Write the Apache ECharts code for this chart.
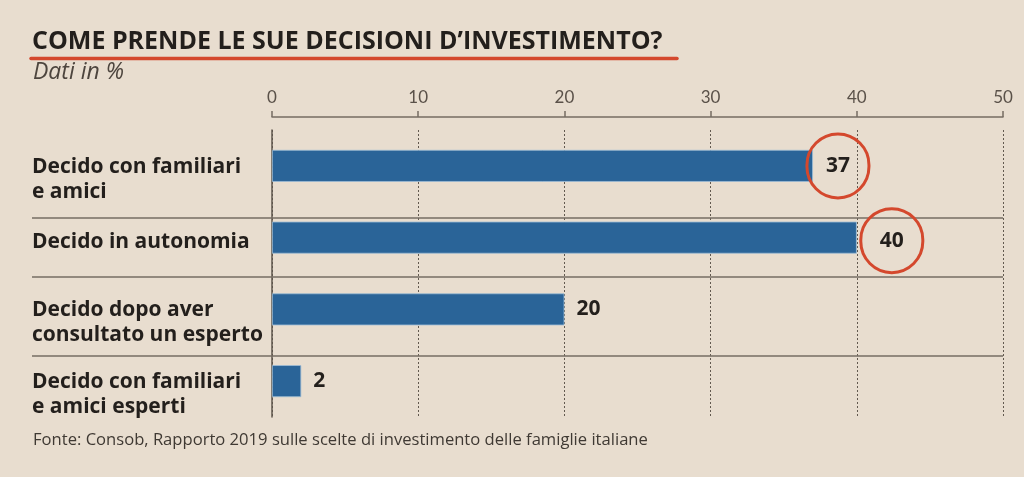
<!DOCTYPE html>
<html><head><meta charset="utf-8">
<script src="https://cdn.jsdelivr.net/npm/echarts/dist/echarts.min.js"></script>
<style>html,body{margin:0;padding:0;background:#e8ddcf;} #c{width:1024px;height:477px;}</style>
</head><body><div id="c"></div>
<script>
const categories = ['Decido con familiari\ne amici', 'Decido in autonomia', 'Decido dopo aver\nconsultato un esperto', 'Decido con familiari\ne amici esperti'];
const values = [37, 40, 20, 2];
const highlighted = [true, true, false, false];
const xTicks = [0, 10, 20, 30, 40, 50];
const titleText = 'COME PRENDE LE SUE DECISIONI D\u2019INVESTIMENTO?';
const subtitleText = 'Dati in %';
const sourceText = 'Fonte: Consob, Rapporto 2019 sulle scelte di investimento delle famiglie italiane';

// font-size fitting helper (match text widths of the reference)
const mctx = document.createElement('canvas').getContext('2d');
function fit(text, style, family, target) {
  mctx.font = style + ' 100px ' + family;
  const w = mctx.measureText(text).width;
  return Math.round(100 * target / w * 10) / 10;
}
const TITLE_FONT = '"Open Sans"';
const LABEL_FONT = '"Open Sans"';
const titleSize = Math.min(25, fit(titleText, 'bold', TITLE_FONT, 636));
const labelSize = Math.min(21, (fit('Decido con familiari', 'bold', LABEL_FONT, 208) + fit('consultato un esperto', 'bold', LABEL_FONT, 233)) / 2);
const footSize = Math.min(16.8, fit(sourceText, 'normal', '"Open Sans"', 615));
const subSize = Math.min(23, fit(subtitleText, 'italic', LABEL_FONT, 97));

const chart = echarts.init(document.getElementById('c'), null, {renderer: 'canvas'});
const INK = '#231f1c';
const RULE = '#766c63';
const RED = '#d4482d';
const circleShift = [[-6, 0], [4, 3]];

const seriesData = values.map((v, i) => {
  const item = {value: v};
  if (highlighted[i]) {
    item.label = {
      distance: circleShift[i][0],
      offset: [0, circleShift[i][1]],
      padding: [22, 19, 21, 19],
      borderColor: RED,
      borderWidth: 3,
      borderRadius: 35
    };
  }
  return item;
});

const sepYs = [218, 277, 356];

chart.setOption({
  backgroundColor: '#e8ddcf',
  animation: false,
  grid: {left: 272, right: 21, top: 130, bottom: 60, containLabel: false},
  xAxis: {
    type: 'value', position: 'top', min: xTicks[0], max: xTicks[xTicks.length - 1], interval: xTicks[1] - xTicks[0],
    offset: 13,
    axisLine: {show: true, lineStyle: {color: RULE, width: 1.5}},
    axisTick: {show: true, inside: false, length: 6, lineStyle: {color: RULE, width: 1.5}},
    axisLabel: {color: '#5a5149', fontSize: 17, fontFamily: 'Lato', margin: 11},
    splitLine: {show: true, lineStyle: {color: '#62594f', width: 1, type: [2, 2]}}
  },
  yAxis: {
    type: 'category', data: categories, inverse: true,
    axisLine: {show: true, lineStyle: {color: '#5f564d', width: 1.5}},
    axisTick: {show: false},
    axisLabel: {
      interval: 0,
      margin: 240, align: 'left', lineHeight: 25,
      formatter: function (v) {
        const lines = v.split('\n');
        if (lines.length > 1) return '{e| }\n' + lines.map(l => '{a|' + l + '}').join('\n');
        return '{s|' + v + '}';
      },
      rich: {
        a: {fontFamily: LABEL_FONT, fontWeight: 'bold', fontSize: labelSize, color: INK, lineHeight: 25},
        s: {fontFamily: LABEL_FONT, fontWeight: 'bold', fontSize: labelSize, color: INK, lineHeight: 25, padding: [9, 0, 0, 0]},
        e: {fontSize: 10, lineHeight: 27}
      }
    }
  },
  series: [{
    type: 'bar', data: seriesData, barWidth: 32,
    itemStyle: {color: '#2a6498', borderColor: '#9dbdd6', borderWidth: 0.8},
    label: {show: true, position: 'right', distance: 12, color: INK, fontFamily: LABEL_FONT, fontWeight: 'bold', fontSize: 21}
  }],
  graphic: [
    {type: 'text', left: 32, top: 29, style: {text: titleText, font: 'bold ' + titleSize + 'px ' + TITLE_FONT, fill: INK}},
    {type: 'line', shape: {x1: 31, y1: 58.5, x2: 677, y2: 58.5}, style: {stroke: RED, lineWidth: 3.5, lineCap: 'round'}},
    {type: 'text', left: 33, top: 61, style: {text: subtitleText, font: 'italic ' + subSize + 'px ' + LABEL_FONT, fill: '#4d453e'}},
    {type: 'text', left: 33, top: 432, style: {text: sourceText, font: footSize + 'px "Open Sans"', fill: '#3f3933'}}
  ].concat(sepYs.map(y => ({type: 'line', z: 1, shape: {x1: 32, y1: y, x2: 1003, y2: y}, style: {stroke: RULE, lineWidth: 1.5}})))
});
</script></body></html>
